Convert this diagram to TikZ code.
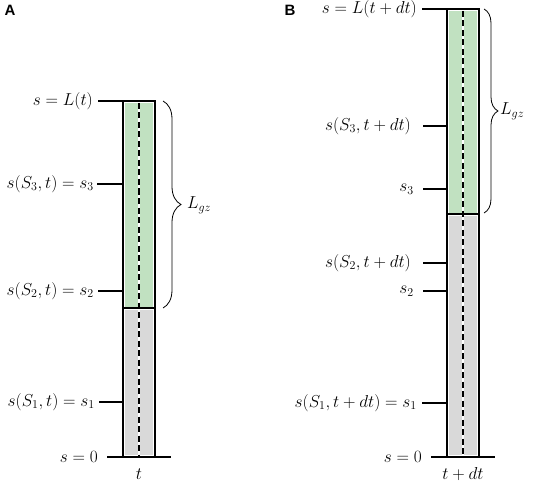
\documentclass[tikz,border=0pt]{standalone}
\usepackage{fontspec}
\newfontfamily\labelsans{Liberation Sans}
\usetikzlibrary{decorations.pathreplacing}
\definecolor{gz}{HTML}{C1E1C1}
\definecolor{gy}{HTML}{D9D9D9}
\begin{document}
\begin{tikzpicture}[x=1pt,y=-1pt,
 lab/.style={anchor=east,inner sep=0pt,font=\fontsize{17}{20}\selectfont},
 bot/.style={inner sep=0pt,font=\fontsize{17}{20}\selectfont},
 panel/.style={font=\labelsans\bfseries\fontsize{15}{18}\selectfont,inner sep=0pt},
 tickline/.style={line width=1.2pt},
 colline/.style={line width=2pt},
 baseline/.style={line width=2.8pt},
 axisdash/.style={dash pattern=on 6pt off 3.5pt,line width=1.5pt},
 brc/.style={decorate,decoration={brace,amplitude=#1},line width=0.8pt}]
\useasboundingbox (0,0) rectangle (533,484);
% ---------- panel A ----------
\node[panel] (pa) at (10,10) {A};
\fill[white] (123,101) rectangle (155,457);
\fill[gz] (124.8,102.8) rectangle (153.2,306.5);
\fill[gy] (124.8,309.5) rectangle (153.2,455.2);
\draw[white,line width=2.2pt] (139,101) -- (139,457);
\draw[axisdash] (139,103) -- (139,457);
\draw[colline] (123,101) rectangle (155,457);
\draw[colline] (123,308) -- (155,308);
\coordinate (aL) at (123,101);
\coordinate (a3) at (123,184);
\coordinate (a2) at (123,291);
\coordinate (a1) at (123,402);
\coordinate (a0l) at (107,457);
\coordinate (a0r) at (171,457);
\node[lab] (la) at (93,101) {$s=L(t)$};
\node[lab] (l3) at (94,184) {$s(S_3,t)=s_3$};
\node[lab] (l2) at (94,291) {$s(S_2,t)=s_2$};
\node[lab] (l1) at (95,402) {$s(S_1,t)=s_1$};
\node[lab] (l0) at (98,457) {$s=0$};
\draw[tickline] ([xshift=5pt]la.east) -- (aL);
\draw[tickline] ([xshift=3pt]l3.east) -- (a3);
\draw[tickline] ([xshift=4pt]l2.east) -- (a2);
\draw[tickline] ([xshift=4pt]l1.east) -- (a1);
\draw[baseline] (a0l) -- (a0r);
\node[bot] (ta) at (139,474) {$t$};
\coordinate (ba1) at (163,101);
\coordinate (ba2) at (163,308);
\draw[brc=18pt] (ba1) -- (ba2);
\node[bot,anchor=west] (lga) at (187,205) {$L_{gz}$};
% ---------- panel B ----------
\node[panel] (pb) at (290,10) {B};
\fill[white] (447,9) rectangle (479,457);
\fill[gz] (448.8,10.8) rectangle (477.2,212.5);
\fill[gy] (448.8,215.5) rectangle (477.2,455.2);
\draw[white,line width=2.2pt] (463,9) -- (463,457);
\draw[axisdash] (463,11) -- (463,457);
\draw[colline] (447,9) rectangle (479,457);
\draw[colline] (447,214) -- (479,214);
\coordinate (bL) at (447,9);
\coordinate (b3t) at (447,126);
\coordinate (b3) at (447,189);
\coordinate (b2t) at (447,263);
\coordinate (b2) at (447,291);
\coordinate (b1) at (447,403);
\coordinate (b0l) at (431,457);
\coordinate (b0r) at (495,457);
\node[lab] (ma) at (417,9) {$s=L(t+dt)$};
\node[lab] (m3t) at (411,126) {$s(S_3,t+dt)$};
\node[lab] (m3) at (414,189) {$s_3$};
\node[lab] (m2t) at (411,263) {$s(S_2,t+dt)$};
\node[lab] (m2) at (414,291) {$s_2$};
\node[lab] (m1) at (417,403) {$s(S_1,t+dt)=s_1$};
\node[lab] (m0) at (422,457) {$s=0$};
\draw[tickline] ([xshift=5pt]ma.east) -- (bL);
\draw[tickline] ([xshift=12pt]m3t.east) -- (b3t);
\draw[tickline] ([xshift=9pt]m3.east) -- (b3);
\draw[tickline] ([xshift=12pt]m2t.east) -- (b2t);
\draw[tickline] ([xshift=9pt]m2.east) -- (b2);
\draw[tickline] ([xshift=5pt]m1.east) -- (b1);
\draw[baseline] (b0l) -- (b0r);
\node[bot] (tb) at (463,474) {$t+dt$};
\coordinate (bb1) at (484,9);
\coordinate (bb2) at (484,213);
\draw[brc=14pt] (bb1) -- (bb2);
\node[bot,anchor=west] (lgb) at (500,111) {$L_{gz}$};
\end{tikzpicture}
\end{document}
